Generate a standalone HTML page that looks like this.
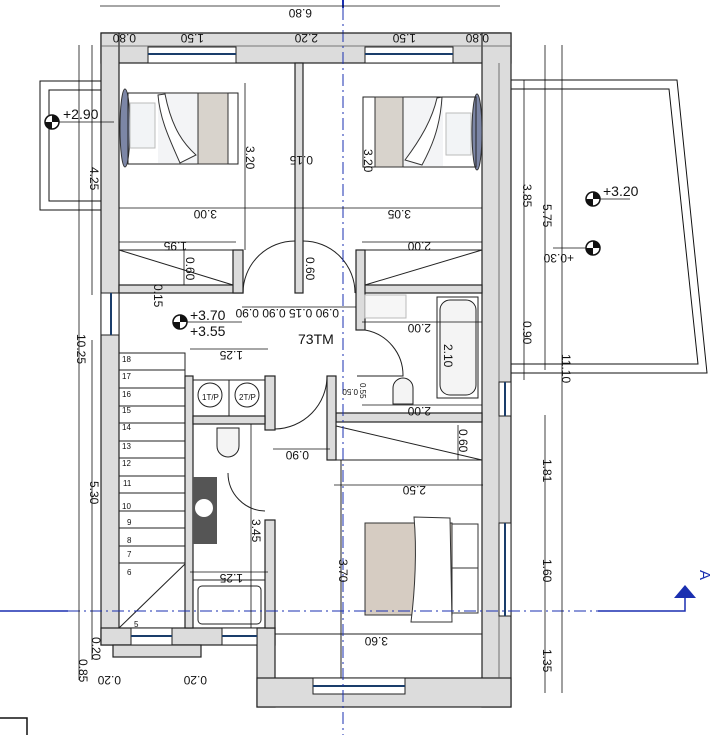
<!DOCTYPE html>
<html><head><meta charset="utf-8"><style>
html,body{margin:0;padding:0;background:#fff;}
svg{display:block;}
text{font-family:"Liberation Sans",sans-serif;fill:#111;}
.d{font-size:12px;}
.s{font-size:8px;}
</style></head><body>
<svg width="715" height="735" viewBox="0 0 715 735" xmlns="http://www.w3.org/2000/svg">
<g stroke="#111" stroke-width="1" fill="none">
<!-- balconies -->
<rect x="40" y="81" width="61" height="129"/>
<rect x="49" y="90" width="52" height="111"/>
<polygon points="511,80 677,80 707,373 511,373"/>
<polygon points="511,89 669,89 698,364 511,364"/>
</g>
<!-- walls -->
<g fill="#dcdcdc" stroke="#222" stroke-width="1.2">
<!-- top wall -->
<rect x="101" y="33" width="410" height="30"/>
<!-- left wall -->
<rect x="101" y="33" width="18" height="612"/>
<!-- right wall -->
<rect x="482" y="33" width="29" height="674"/>
<!-- bottom-left wall -->
<rect x="101" y="628" width="174" height="17"/>
<rect x="113" y="645" width="88" height="12"/>
<!-- lower wing -->
<rect x="257" y="628" width="18" height="79"/>
<rect x="257" y="678" width="254" height="29"/>
<!-- bedroom divider -->
<rect x="295" y="63" width="8" height="230"/>
<!-- bedroom1 bottom -->
<rect x="119" y="285" width="124" height="8"/>
<rect x="233" y="250" width="10" height="43"/>
<!-- bedroom2 bottom -->
<rect x="356" y="285" width="126" height="8"/>
<rect x="356" y="250" width="9" height="80"/>
<!-- bath/closet -->
<rect x="336" y="413" width="146" height="9"/>
<rect x="327" y="376" width="9" height="84"/>
<!-- WC walls -->
<rect x="185" y="376" width="8" height="252"/>
<rect x="265" y="376" width="10" height="54"/>
<rect x="265" y="520" width="10" height="108"/>
<rect x="193" y="416" width="72" height="8"/>
</g>
<line x1="101" y1="46" x2="511" y2="46" stroke="#555" stroke-width="0.8"/>
<line x1="499" y1="63" x2="499" y2="678" stroke="#555" stroke-width="0.8"/>
<!-- windows -->
<g fill="#fff" stroke="#222">
<rect x="148" y="47" width="88" height="16"/>
<rect x="365" y="47" width="88" height="16"/>
<rect x="101" y="293" width="18" height="42"/>
<rect x="131" y="628" width="41" height="17"/>
<rect x="222" y="628" width="35" height="17"/>
<rect x="313" y="678" width="92" height="16"/>
<rect x="499" y="382" width="12" height="34"/>
<rect x="499" y="523" width="12" height="93"/>
</g>
<g stroke="#1a3d6b" stroke-width="2">
<line x1="148" y1="54" x2="236" y2="54"/>
<line x1="365" y1="54" x2="453" y2="54"/>
<line x1="111" y1="293" x2="111" y2="335"/>
<line x1="131" y1="636" x2="172" y2="636"/>
<line x1="222" y1="636" x2="257" y2="636"/>
<line x1="313" y1="686" x2="405" y2="686"/>
<line x1="505" y1="382" x2="505" y2="416"/>
<line x1="505" y1="523" x2="505" y2="616"/>
</g>
<g stroke="#222" fill="none" stroke-width="1">
<!-- wardrobes -->
<rect x="119" y="250" width="114" height="35"/>
<line x1="119" y1="250" x2="233" y2="285"/>
<rect x="365" y="250" width="117" height="35"/>
<line x1="482" y1="250" x2="365" y2="285"/>
<!-- closet -->
<rect x="336" y="422" width="146" height="38"/>
<line x1="336" y1="426" x2="482" y2="460"/>
<!-- rooms lines -->
<line x1="341" y1="460" x2="341" y2="678"/>
<line x1="275" y1="634" x2="482" y2="634"/>
<!-- doors -->
<path d="M243,293 A52,52 0 0 1 295,241"/>
<path d="M303,241 A52,52 0 0 1 355,293"/>
<path d="M365,330 A46,46 0 0 1 403,376 L357,376"/>
<path d="M275,429 A53,53 0 0 0 327,376"/>
<path d="M228,473 A38,38 0 0 0 265,511"/>
<!-- stairs -->
<rect x="119" y="353" width="66" height="275"/>
<line x1="119" y1="370" x2="185" y2="370"/>
<line x1="119" y1="388" x2="185" y2="388"/>
<line x1="119" y1="406" x2="185" y2="406"/>
<line x1="119" y1="423" x2="185" y2="423"/>
<line x1="119" y1="441" x2="185" y2="441"/>
<line x1="119" y1="458" x2="185" y2="458"/>
<line x1="119" y1="476" x2="185" y2="476"/>
<line x1="119" y1="493" x2="185" y2="493"/>
<line x1="119" y1="511" x2="185" y2="511"/>
<line x1="119" y1="528" x2="185" y2="528"/>
<line x1="119" y1="546" x2="185" y2="546"/>
<line x1="119" y1="563" x2="185" y2="563"/>
<line x1="119" y1="628" x2="185" y2="564"/>
<!-- washer/dryer -->
<rect x="193" y="380" width="72" height="36"/>
<line x1="229" y1="380" x2="229" y2="416"/>
<circle cx="210" cy="395" r="12"/>
<circle cx="247" cy="395" r="12"/>
<!-- bath tub lower -->
<rect x="193" y="580" width="72" height="48"/>
<rect x="198" y="586" width="63" height="38" rx="4"/>
<!-- bath upper -->
<rect x="437" y="297" width="41" height="101"/>
<rect x="440" y="300" width="36" height="95" rx="10" fill="#f4f4f4"/>
<rect x="365" y="295" width="41" height="23" fill="#f6f6f6" stroke="#bbb"/>
<path d="M393,388 a10,10 0 0 1 20,0 v16 h-20 z" fill="#f4f4f4"/>
<path d="M217,428 h22 v18 a11,11 0 0 1 -22,0 z" fill="#f4f4f4"/>
</g>
<rect x="193" y="477" width="24" height="67" fill="#555"/>
<circle cx="204" cy="508" r="9" fill="#fff"/>
<!-- beds -->
<ellipse cx="125" cy="128" rx="5" ry="39" fill="#7c86a6" stroke="#333"/>
<rect x="130" y="103" width="25" height="45" fill="#f2f4f6" stroke="#bbb"/>
<rect x="128" y="93" width="110" height="71" fill="none" stroke="#222"/>
<rect x="158" y="94" width="40" height="69" fill="#f3f4f6"/>
<path d="M158,95 L165,94 C172,130 185,145 196,155 L180,163 C170,140 160,120 158,95z" fill="#fff" stroke="#333"/>
<rect x="198" y="93" width="30" height="71" fill="#d8d3cc" stroke="#333"/>
<ellipse cx="477" cy="132" rx="5" ry="38" fill="#7c86a6" stroke="#333"/>
<rect x="446" y="113" width="25" height="42" fill="#f2f4f6" stroke="#bbb"/>
<rect x="363" y="97" width="113" height="70" fill="none" stroke="#222"/>
<rect x="403" y="98" width="40" height="68" fill="#f3f4f6"/>
<rect x="375" y="97" width="28" height="70" fill="#d8d3cc" stroke="#333"/>
<path d="M437,98 L442,97 C440,130 430,150 422,165 L405,160 C420,140 432,120 437,98z" fill="#fff" stroke="#333"/>
<rect x="365" y="523" width="87" height="92" fill="#d6ccc2" stroke="#333"/>
<rect x="452" y="524" width="26" height="89" fill="#fff" stroke="#333"/>
<line x1="452" y1="568" x2="478" y2="568" stroke="#333"/>
<path d="M414,517 L450,518 L452,622 L411,622 C415,590 417,550 414,517z" fill="#fff" stroke="#333"/>
<!-- axes -->
<g stroke="#1a2fb0" stroke-width="1" fill="none">
<line x1="343" y1="0" x2="343" y2="8" stroke-width="2"/>
<line x1="343" y1="8" x2="343" y2="735" stroke-dasharray="12,4,2,4"/>
<line x1="0" y1="611" x2="68" y2="611" stroke-width="1.5"/>
<line x1="68" y1="611" x2="598" y2="611" stroke-dasharray="12,4,2,4"/>
<polyline points="598,611 685,611 685,596" stroke-width="1.5"/>
</g>
<polygon points="674,598 696,598 685,585" fill="#1a2fb0"/>
<text x="700" y="580" transform="rotate(90 705 575)" style="font-size:15px;fill:#1a2fb0">A</text>
<!-- dimension lines -->
<g stroke="#111" stroke-width="0.8" fill="none">
<line x1="100" y1="6" x2="500" y2="6"/>
<line x1="101" y1="33" x2="500" y2="33"/>
<line x1="79" y1="45" x2="79" y2="680"/>
<line x1="92" y1="45" x2="92" y2="295"/>
<line x1="92" y1="340" x2="92" y2="660"/>
<line x1="524" y1="80" x2="524" y2="380"/>
<line x1="545" y1="45" x2="545" y2="370"/>
<line x1="545" y1="415" x2="545" y2="693"/>
<line x1="562" y1="45" x2="562" y2="693"/>
<line x1="119" y1="208" x2="482" y2="208"/>
<line x1="119" y1="242" x2="236" y2="242"/>
<line x1="362" y1="242" x2="482" y2="242"/>
<line x1="245" y1="83" x2="245" y2="250"/>
<line x1="242" y1="307" x2="356" y2="307"/>
<line x1="190" y1="349" x2="268" y2="349"/>
<line x1="362" y1="322" x2="482" y2="322"/>
<line x1="273" y1="449" x2="330" y2="449"/>
<line x1="334" y1="485" x2="483" y2="485"/>
<line x1="190" y1="572" x2="268" y2="572"/>
<line x1="251" y1="424" x2="251" y2="628"/>
<line x1="362" y1="405" x2="482" y2="405"/>
<line x1="184" y1="250" x2="184" y2="285"/>
<line x1="458" y1="425" x2="458" y2="460"/>
<line x1="52" y1="122" x2="114" y2="122"/>
<line x1="180" y1="322" x2="242" y2="322"/>
<line x1="593" y1="199" x2="630" y2="199"/>
<line x1="553" y1="248" x2="593" y2="248"/>
</g>
<!-- level markers -->
<g>
<circle cx="52" cy="122" r="7" fill="#fff" stroke="#111" stroke-width="1.5"/>
<path d="M52,115 A7,7 0 0 1 59,122 L52,122z M52,129 A7,7 0 0 1 45,122 L52,122z" fill="#111"/>
<circle cx="180" cy="322" r="7" fill="#fff" stroke="#111" stroke-width="1.5"/>
<path d="M180,315 A7,7 0 0 1 187,322 L180,322z M180,329 A7,7 0 0 1 173,322 L180,322z" fill="#111"/>
<circle cx="593" cy="199" r="7" fill="#fff" stroke="#111" stroke-width="1.5"/>
<path d="M593,192 A7,7 0 0 1 600,199 L593,199z M593,206 A7,7 0 0 1 586,199 L593,199z" fill="#111"/>
<circle cx="593" cy="248" r="7" fill="#fff" stroke="#111" stroke-width="1.5"/>
<path d="M593,241 A7,7 0 0 1 600,248 L593,248z M593,255 A7,7 0 0 1 586,248 L593,248z" fill="#111"/>
</g>
<text x="63" y="119" style="font-size:14px">+2.90</text>
<text x="190" y="320" style="font-size:14px">+3.70</text>
<text x="190" y="336" style="font-size:14px">+3.55</text>
<text x="603" y="196" style="font-size:14px">+3.20</text>
<text x="298" y="344" style="font-size:14px">73TM</text>
<!-- upside down labels -->
<g class="d">
<text transform="rotate(180 300 13)" x="288" y="17">6.80</text>
<text transform="rotate(180 125 38)" x="114" y="42">0.80</text>
<text transform="rotate(180 193 38)" x="182" y="42">1.50</text>
<text transform="rotate(180 307 38)" x="296" y="42">2.20</text>
<text transform="rotate(180 405 38)" x="394" y="42">1.50</text>
<text transform="rotate(180 478 38)" x="467" y="42">0.80</text>
<text transform="rotate(180 206 214)" x="195" y="218">3.00</text>
<text transform="rotate(180 400 214)" x="389" y="218">3.05</text>
<text transform="rotate(180 176 246)" x="165" y="250">1.95</text>
<text transform="rotate(180 420 246)" x="409" y="250">2.00</text>
<text transform="rotate(180 298 313)" x="257" y="317">0.90 0.15 0.90 0.90</text>
<text transform="rotate(180 232 355)" x="221" y="359">1.25</text>
<text transform="rotate(180 420 328)" x="409" y="332">2.00</text>
<text transform="rotate(180 298 455)" x="287" y="459">0.90</text>
<text transform="rotate(180 415 490)" x="404" y="494">2.50</text>
<text transform="rotate(180 232 578)" x="221" y="582">1.25</text>
<text transform="rotate(180 377 641)" x="366" y="645">3.60</text>
<text transform="rotate(180 420 411)" x="409" y="415">2.00</text>
<text transform="rotate(180 110 680)" x="99" y="684">0.20</text>
<text transform="rotate(180 196 680)" x="185" y="684">0.20</text>
<text transform="rotate(180 563 258)" x="552" y="262">+0.30</text>
<text transform="rotate(180 302 160)" x="291" y="164">0.15</text>
<text transform="rotate(180 348 393)" x="338" y="397" class="s">0.50</text>
</g>
<!-- vertical labels -->
<g class="d">
<text transform="rotate(90 94 178)" x="83" y="182">4.25</text>
<text transform="rotate(90 94 492)" x="83" y="496">5.30</text>
<text transform="rotate(90 81 348)" x="67" y="352">10.25</text>
<text transform="rotate(90 83 670)" x="72" y="674">0.85</text>
<text transform="rotate(90 96 648)" x="85" y="652">0.20</text>
<text transform="rotate(90 250 157)" x="239" y="161">3.20</text>
<text transform="rotate(90 368 160)" x="357" y="164">3.20</text>
<text transform="rotate(90 190 268)" x="179" y="272">0.60</text>
<text transform="rotate(90 158 295)" x="147" y="299">0.15</text>
<text transform="rotate(90 310 268)" x="299" y="272">0.60</text>
<text transform="rotate(90 448 355)" x="437" y="359">2.10</text>
<text transform="rotate(90 463 440)" x="452" y="444">0.60</text>
<text transform="rotate(90 256 530)" x="245" y="534">3.45</text>
<text transform="rotate(90 343 570)" x="332" y="574">3.70</text>
<text transform="rotate(90 527 195)" x="516" y="199">3.85</text>
<text transform="rotate(90 547 215)" x="536" y="219">5.75</text>
<text transform="rotate(90 527 332)" x="516" y="336">0.90</text>
<text transform="rotate(90 566 368)" x="552" y="372">11.10</text>
<text transform="rotate(90 547 470)" x="536" y="474">1.81</text>
<text transform="rotate(90 547 570)" x="536" y="574">1.60</text>
<text transform="rotate(90 547 660)" x="536" y="664">1.35</text>
<text transform="rotate(90 364 393)" x="354" y="397" class="s">0.55</text>
</g>
<!-- stair numbers -->
<g class="s">
<text x="122" y="362">18</text><text x="122" y="379">17</text><text x="122" y="397">16</text>
<text x="122" y="413">15</text><text x="122" y="430">14</text><text x="122" y="449">13</text>
<text x="122" y="466">12</text><text x="123" y="486">11</text><text x="122" y="509">10</text>
<text x="127" y="525">9</text><text x="127" y="543">8</text><text x="127" y="557">7</text>
<text x="127" y="575">6</text><text x="134" y="627">5</text>
<text x="202" y="400">1T/P</text><text x="239" y="400">2T/P</text>
</g>
<rect x="-1" y="718" width="28" height="20" fill="none" stroke="#111" stroke-width="1.5"/>
</svg>
</body></html>
